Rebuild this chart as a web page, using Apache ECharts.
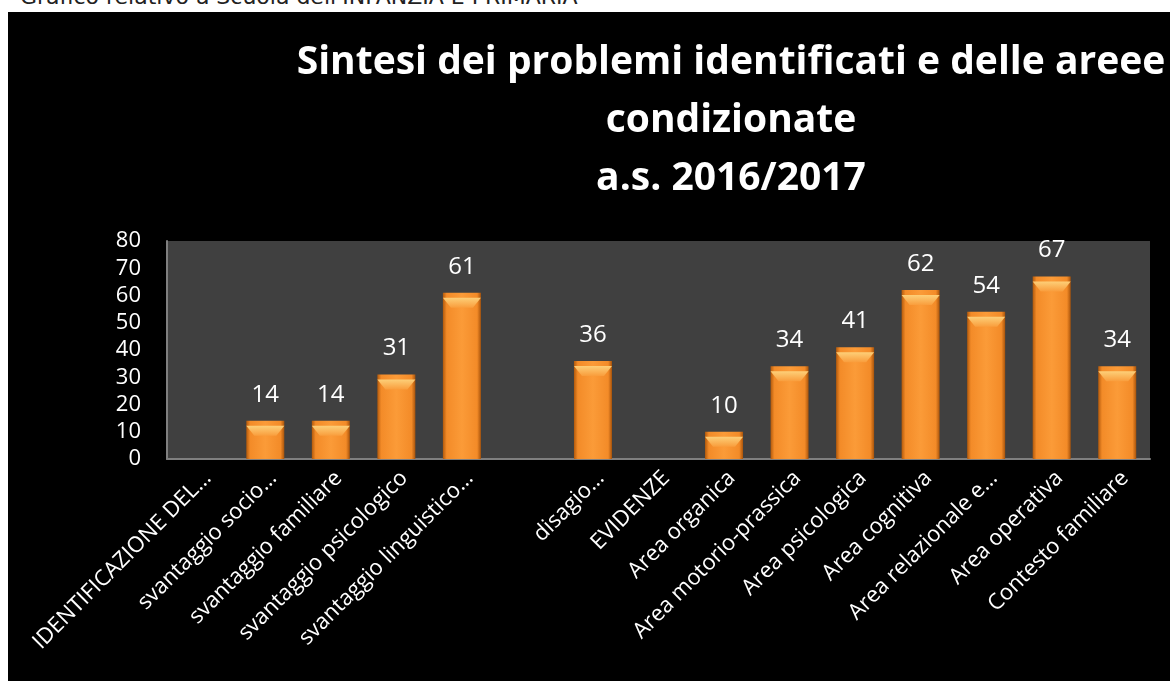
<!DOCTYPE html>
<html>
<head>
<meta charset="utf-8">
<script src="https://cdn.jsdelivr.net/npm/echarts@6/dist/echarts.min.js"></script>
<style>
  html, body { margin: 0; padding: 0; background: #fff; width: 1170px; height: 681px; overflow: hidden; }
  #top { position: absolute; left: 20px; top: -16px; font-family: 'DejaVu Sans', Verdana, sans-serif; font-size: 22px; line-height: 26px; color: #222; white-space: nowrap; }
  #main { position: absolute; left: 8px; top: 12px; width: 1162px; height: 669px; background: #000; }
</style>
</head>
<body>
<div id="top">Grafico relativo a Scuola dell'INFANZIA E PRIMARIA</div>
<div id="main"></div>
<script>
// categorie e valori
var categorie = ['IDENTIFICAZIONE DEL…', 'svantaggio socio…', 'svantaggio familiare', 'svantaggio psicologico',
  'svantaggio linguistico…', '', 'disagio…', 'EVIDENZE', 'Area organica', 'Area motorio-prassica',
  'Area psicologica', 'Area cognitiva', 'Area relazionale e…', 'Area operativa', 'Contesto familiare'];
var valori = [null, 14, 14, 31, 61, null, 36, null, 10, 34, 41, 62, 54, 67, 34];
var tickY = [0, 80, 10]; // min, max, passo

var myChart = echarts.init(document.getElementById('main'));
var option = {
  backgroundColor: '#000',
  animation: false,
  title: {
    text: 'Sintesi dei problemi identificati e delle areee\ncondizionate\na.s. 2016/2017',
    left: 718,
    top: 17,
    textAlign: 'center',
    textStyle: {
      color: '#fff',
      fontFamily: 'Open Sans',
      fontWeight: 'bold',
      fontSize: 39,
      lineHeight: 58
    }
  },
  grid: {
    left: 159,
    right: 20,
    top: 229,
    bottom: 222,
    show: true,
    backgroundColor: '#404040',
    borderWidth: 0
  },
  xAxis: {
    type: 'category',
    data: categorie,
    axisLine: { lineStyle: { color: '#7f7f7f', width: 2 } },
    axisTick: { show: false },
    axisLabel: {
      interval: 0,
      rotate: 45,
      margin: 8,
      verticalAlign: 'top',
      color: '#fff',
      fontFamily: 'Open Sans',
      fontSize: 22
    }
  },
  yAxis: {
    type: 'value',
    min: tickY[0],
    max: tickY[1],
    interval: tickY[2],
    axisLine: { show: true, lineStyle: { color: '#7f7f7f', width: 2 } },
    axisTick: { show: false },
    splitLine: { show: false },
    axisLabel: {
      color: '#fff',
      fontFamily: 'Open Sans',
      fontSize: 22,
      margin: 26
    }
  },
  series: [{
    type: 'bar',
    data: valori,
    barWidth: 38,
    itemStyle: {
      color: new echarts.graphic.LinearGradient(0, 0, 1, 0, [
        { offset: 0, color: '#b35a0c' },
        { offset: 0.1, color: '#f38b28' },
        { offset: 0.5, color: '#fb9b38' },
        { offset: 0.9, color: '#f38b28' },
        { offset: 1, color: '#a9540b' }
      ])
    },
    label: {
      show: true,
      position: 'top',
      distance: 14,
      color: '#fff',
      fontFamily: 'Open Sans',
      fontSize: 24
    }
  }, {
    // smusso chiaro in cima alle barre
    type: 'pictorialBar',
    data: valori,
    symbol: 'path://M0,0 L38,0 L30,10 L8,10 Z',
    symbolSize: [38, 10],
    symbolPosition: 'end',
    symbolOffset: [0, '50%'],
    z: 3,
    silent: true,
    itemStyle: {
      color: new echarts.graphic.LinearGradient(0, 0, 0, 1, [
        { offset: 0, color: '#fdcf78' },
        { offset: 1, color: '#f99d3c' }
      ])
    },
    label: { show: false }
  }]
};
myChart.setOption(option);
</script>
</body>
</html>
